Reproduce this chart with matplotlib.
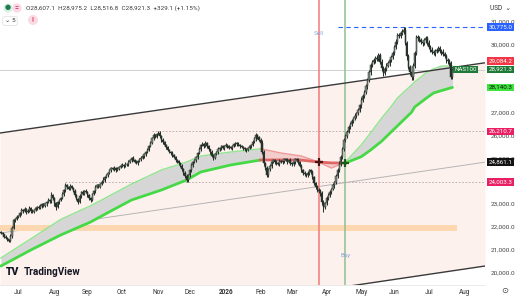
import numpy as np
import pandas as pd
import matplotlib
matplotlib.use("Agg")
import matplotlib.pyplot as plt
import matplotlib.transforms as mtrans

plt.rcParams['font.family'] = ['Roboto', 'DejaVu Sans']

#-----------------------------------------------------------------------------------------
# data (daily bars, NAS100)

start_day = "2025-06-16"
first_open = 21800

closes = [
    21754, 21690, 21600, 21535, 21480, 21400, 21620, 21980, 22325, 22380, 22456,
    22520, 22610, 22763, 22700, 22810, 22690, 22740, 22850, 22720, 22680, 22763,
    22830, 22900, 22860, 22950, 23010, 22940, 23050, 23114, 23200, 23150, 23421,
    23300, 23050, 22895, 23100, 23220, 23290, 23450, 23620, 23860,
    23780, 23700, 23820, 23728, 23600, 23420, 23250, 23114, 23380, 23553,
    23480, 23600, 23553, 23400, 23300, 23202, 23450, 23600, 23772,
    23850, 23780, 23900, 23991, 24100, 24200, 24298, 24400, 24500, 24605,
    24550, 24620, 24518, 24580, 24640, 24693, 24750, 24700, 24800, 24760, 24868,
    24950, 25044, 24950, 24880, 24825, 24900, 24980, 25044, 25120, 25200, 25307,
    25400, 25550, 25702, 25900, 26053, 25980, 26080, 26140,
    26000, 25850, 25746, 25600, 25520, 25395, 25300, 25250, 25175,
    25100, 24950, 24900, 24825, 24700, 24550, 24386, 24250, 24060,
    24300, 24500, 24737, 24850, 24950, 25088, 25250, 25420, 25614,
    25650, 25580, 25702, 25550, 25420, 25307, 25150, 25044,
    25200, 25300, 25420, 25482, 25550, 25480, 25560, 25614,
    25550, 25500, 25482, 25580, 25640, 25702, 25650, 25600, 25560, 25526,
    25480, 25420, 25395, 25480, 25550, 25614, 25750, 25900, 26053,
    25950, 25850, 25702, 25300, 24825, 24600, 24298,
    24550, 24700, 24868, 24950, 24880, 24825, 24780, 24900, 24868,
    24920, 24990, 24956, 24880, 24950, 24825, 24760, 24880, 24980, 24956,
    24850, 24700, 24518, 24400, 24350, 24298, 24380, 24500, 24430,
    24200, 23950, 23772, 23650, 23600, 23509, 23100, 22895,
    23050, 23300, 23421, 23550, 23700, 23850, 23991, 24250, 24518,
    24800, 25088, 25450, 25833, 26000, 26200, 26404, 26550, 26680, 26798,
    26900, 27000, 27149, 27350, 27588, 27750, 27939, 28200, 28465,
    28800, 29123, 29250, 29342, 29450, 29380, 29561, 29250, 28991, 28772,
    28950, 29100, 29211, 29350, 29474, 29650, 29912, 30150, 30439,
    30400, 30526, 30580, 30658, 30100, 29500, 29035, 28800, 28600,
    29100, 29649, 30351, 30300, 30219, 30150, 30088, 30200, 30307, 30100, 29912,
    29800, 29700, 29649, 29720, 29781, 29850, 29750, 29693,
    29600, 29500, 29342, 29280, 29211, 28607, 28921.3,
]

# wick lengths beyond the body, in tens of points
hi_wick = [
    5, 6, 4, 8, 5, 3, 9, 7, 6, 5, 8, 4, 6, 7, 5, 9, 4, 6, 8, 5, 7, 4, 6, 5,
    8, 6, 5, 7, 4, 6, 9, 5, 12, 6, 5, 8, 7, 4, 6, 9, 5, 7, 6, 4, 8, 5, 6, 7,
    5, 4, 9, 6, 7, 5, 8, 4, 6, 5, 7, 6, 8, 5, 4, 6, 7, 9, 5, 6, 4, 8, 6, 5,
    7, 5, 6, 4, 8, 6, 5, 7, 4, 9, 6, 5, 8, 6, 7, 4, 5, 9, 6, 7, 5, 8, 6, 10,
    7, 8, 6, 5, 9, 7, 6, 8, 5, 4, 7, 6, 5, 8, 6, 4, 7, 5, 6, 8, 5, 7, 9, 6,
    5, 8, 6, 7, 4, 6, 9, 5, 8, 6, 7, 5, 6, 4, 8, 7, 5, 6, 9, 4, 6, 7, 5, 8,
    6, 5, 7, 4, 8, 6, 5, 9, 6, 7, 4, 5, 8, 6, 7, 5, 9, 8, 9, 6, 7, 5, 12, 8,
    6, 9, 5, 7, 8, 6, 4, 7, 5, 8, 6, 9, 5, 6, 7, 4, 8, 6, 5, 7, 6, 9, 5, 8,
    6, 7, 5, 8, 4, 6, 9, 7, 5, 8, 6, 10, 7, 12, 8, 6, 9, 7, 5, 8, 6, 9, 7, 10,
    8, 9, 7, 10, 6, 8, 9, 7, 6, 10, 8, 9, 7, 11, 8, 9, 10, 7, 12, 9, 8, 10, 7, 11,
    9, 8, 12, 10, 7, 9, 8, 11, 9, 10, 8, 12, 9, 10, 8, 11, 12, 15, 9, 10, 8, 12, 9, 11,
    10, 8, 9, 11, 7, 10, 9, 8, 12, 9, 10, 7, 11, 8, 9, 10, 8, 12, 9, 10, 7, 11, 9, 5,
]
lo_wick = [
    6, 5, 7, 4, 8, 4, 6, 9, 5, 7, 4, 6, 8, 5, 7, 4, 9, 6, 5, 8, 6, 7, 4, 5,
    7, 5, 8, 6, 4, 9, 5, 7, 6, 8, 10, 12, 5, 7, 6, 4, 8, 6, 9, 5, 7, 6, 4, 8,
    6, 9, 5, 7, 4, 8, 6, 5, 9, 7, 6, 4, 8, 6, 5, 7, 4, 6, 9, 5, 7, 6, 8, 4,
    6, 7, 5, 8, 4, 6, 9, 5, 7, 6, 4, 8, 5, 7, 6, 9, 4, 6, 5, 8, 7, 5, 6, 4,
    5, 7, 6, 8, 4, 6, 9, 7, 5, 8, 6, 4, 7, 9, 5, 6, 8, 7, 6, 9, 8, 7, 6, 5,
    7, 5, 8, 4, 6, 9, 5, 7, 6, 8, 4, 6, 9, 7, 5, 8, 6, 4, 7, 5, 9, 6, 8, 4,
    5, 7, 6, 9, 4, 8, 6, 5, 7, 6, 9, 5, 8, 4, 6, 7, 5, 6, 9, 8, 7, 10, 9, 12,
    8, 10, 7, 6, 9, 5, 8, 7, 6, 9, 5, 7, 8, 6, 9, 7, 10, 6, 5, 8, 7, 9, 6, 10,
    8, 9, 7, 10, 6, 8, 9, 11, 8, 10, 9, 12, 10, 20, 9, 8, 10, 7, 9, 8, 10, 9, 7, 8,
    9, 7, 10, 8, 9, 7, 8, 10, 9, 8, 11, 9, 7, 10, 8, 9, 7, 11, 8, 10, 9, 8, 12, 9,
    10, 8, 14, 12, 9, 10, 8, 11, 9, 10, 8, 9, 10, 8, 11, 9, 10, 12, 14, 10, 11, 14, 12, 10,
    9, 11, 8, 10, 12, 9, 11, 10, 8, 12, 10, 9, 11, 8, 10, 9, 12, 10, 9, 11, 10, 12, 9, 9,
]

# moving averages sampled at bar indices
ma_idx  = [0, 19, 38, 57, 64, 83, 102, 118, 127, 146, 165, 178, 191, 202, 210, 219,
           229, 235, 242, 248, 252, 261, 263, 271, 275, 280, 287]
ma_fast = [20658, 21500, 22350, 22950, 23202, 23904, 24518, 24868, 25131, 25307, 25450,
           25263, 25131, 24868, 24605, 24868, 25614, 26150, 26798, 27300, 27675, 28246,
           28380, 28816, 28950, 29079, 29084.2]
ma_slow = [20307, 21009, 21667, 22237, 22500, 23202, 23640, 24079, 24430, 24737, 24956,
           24960, 24950, 24868, 24830, 24825, 25100, 25395, 25780, 26184, 26450, 27050,
           27281, 27700, 27895, 28000, 28140.3]
red_from, red_to = 165, 219

# drawings
line_x = [-0.6, 307.7]
upper_y = [26140, 29220]
lower_y = [17160, 20307]
mid_y = [21750, 24861.1]
levels = [30775.0, 26210.7, 24003.3]
level_from = [214, 96, 41]
zone = [21842, 22105]
zone_end = 290
sell_idx, buy_idx = 202, 219
cross_px = [24868, 24825]

# price scale: plain ticks (those fully under a tag are not shown) and coloured tags
price_ticks = [20000, 21000, 22000, 23000, 25000, 26000, 27000, 30000, 31000]
tag_values = [30775.0, 29084.2, 28921.3, 28140.3, 26210.7, 24861.1, 24003.3]
# where the scale shows each tag (TradingView pushes apart tags that collide)
tag_shown_at = [30775.0, 29300.0, 28921.3, 28140.3, 26210.7, 24861.1, 24003.3]
tag_colors = ['#2962ff', '#f23645', '#1f7a38', '#3ee33e', '#e91e63', '#131313', '#e91e63']
tag_text = ['white', 'white', 'white', '#111111', 'white', 'white', 'white']

#-----------------------------------------------------------------------------------------

W, H = 518, 300
n = len(closes)
assert len(hi_wick) == n and len(lo_wick) == n

c = np.array(closes, dtype=float)
o = np.concatenate([[first_open], c[:-1]])
hi = np.maximum(o, c) + np.array(hi_wick) * 10
lo = np.minimum(o, c) - np.array(lo_wick) * 10
idx = np.arange(n)

fig = plt.figure(figsize=(W / 100, H / 100), dpi=100)
fig.patch.set_facecolor('white')
ax = fig.add_axes([0, 15 / H, 485 / W, 285 / H])
x_lo, x_hi = line_x
ax.set_xlim(x_lo, x_hi)
ax.set_ylim(19474, 31974)
ax.axis('off')

# channel
ax.fill_between(line_x, lower_y, upper_y, color='#fdf1ee', zorder=0, lw=0)
ax.plot(line_x, upper_y, color='#3a3a3a', lw=1.0, zorder=4)
ax.plot(line_x, lower_y, color='#3a3a3a', lw=1.0, zorder=4)
ax.plot(line_x, mid_y, color='#b5b5b5', lw=0.7, zorder=1)

# demand zone
ax.fill_between([x_lo, zone_end], zone[0], zone[1], color='#fcd7b0', lw=0, zorder=1)

# level lines
ax.hlines(levels[0], level_from[0], x_hi, color='#2962ff', lw=0.8, ls=(0, (4, 3)), zorder=2)
ax.hlines(levels[1], level_from[1], x_hi, color='#b8a4a8', lw=0.6, ls=(0, (2, 2)), zorder=2)
ax.hlines(levels[2], level_from[2], x_hi, color='#b8a4a8', lw=0.6, ls=(0, (2, 2)), zorder=2)
ax.axhline(closes[-1], color='#c9c9c9', lw=0.6, zorder=1)

# moving averages
mi = np.array(ma_idx)
mf = np.array(ma_fast)
ms = np.array(ma_slow)
g1 = mi <= red_from
rr = (mi >= red_from) & (mi <= red_to)
g2 = mi >= red_to
for m in (g1, g2):
    ax.fill_between(mi[m], ms[m], mf[m], color='#d6d6d6', lw=0, zorder=2)
    ax.plot(mi[m], mf[m], color='#8fe68f', lw=1.0, zorder=3)
    ax.plot(mi[m], ms[m], color='#46d946', lw=2.0, zorder=3, solid_capstyle='round')
ax.fill_between(mi[rr], ms[rr], mf[rr], color='#f3cccc', lw=0, zorder=2)
ax.plot(mi[rr], mf[rr], color='#ee9a9a', lw=1.0, zorder=3)
ax.plot(mi[rr], ms[rr], color='#e06666', lw=2.0, zorder=3)

# signal lines
ax.axvline(sell_idx, color='#f07a7a', lw=1.1, zorder=2)
ax.axvline(buy_idx, color='#8fbf8f', lw=1.1, zorder=2)
ax.text(sell_idx, 30526, 'Sell', color='#8ea3d6', fontsize=4.5, ha='center', va='center', zorder=6)
ax.text(buy_idx, 20789, 'Buy', color='#8ea3d6', fontsize=4.5, ha='center', va='center', zorder=6)

# candles
up = c >= o
body_lo = np.minimum(o, c)
body_h = np.maximum(np.abs(c - o), 25)
ax.vlines(idx, lo, hi, color='#27322b', lw=0.75, zorder=5)
ax.bar(idx[up], body_h[up], bottom=body_lo[up], width=0.8, color='#7f8b82',
       edgecolor='#27322b', lw=0.35, zorder=6)
ax.bar(idx[~up], body_h[~up], bottom=body_lo[~up], width=0.8, color='#27322b',
       edgecolor='#27322b', lw=0.35, zorder=6)

ax.plot(sell_idx, cross_px[0], marker='+', ms=6, mew=1.6, color='#4a1414', zorder=7)
ax.plot(buy_idx, cross_px[1], marker='+', ms=6, mew=1.6, color='#1a5a1a', zorder=7)

# NAS100 tag at the right edge
ax.text(0.96, closes[-1], 'NAS100', transform=mtrans.blended_transform_factory(ax.transAxes, ax.transData),
        fontsize=4.4, color='white', ha='center', va='center', zorder=8,
        bbox=dict(boxstyle='square,pad=0.22', fc='#1f7a38', ec='none'))

# price scale
pax = fig.add_axes([485 / W, 15 / H, 33 / W, 285 / H])
pax.set_xlim(0, 1)
pax.set_ylim(ax.get_ylim())
pax.axis('off')
for v in price_ticks:
    pax.text(0.18, v, f"{v:,.1f}", fontsize=4.6, color='#444444', va='center', zorder=1)
for v, at, fc, tc in zip(tag_values, tag_shown_at, tag_colors, tag_text):
    pax.text(0.1, at, f"{v:,.1f}", fontsize=4.5, color=tc, va='center', zorder=5,
             bbox=dict(boxstyle='square,pad=0.22', fc=fc, ec='none'))
fig.text(490 / W, 1 - 9 / H, 'USD  \u2304', fontsize=4.7, color='#333333', va='center')

# time scale
dates = pd.bdate_range(start_day, periods=int(x_hi) + 2)
months = dates.to_period('M')
tick_pos, tick_lab = [], []
for i in range(1, len(dates)):
    if months[i] != months[i - 1]:
        tick_pos.append(i)
        tick_lab.append(str(dates[i].year) if dates[i].month == 1 else dates[i].strftime('%b'))
tr = mtrans.blended_transform_factory(ax.transData, fig.transFigure)
for p, lab in zip(tick_pos, tick_lab):
    ax.text(p, 7.5 / H, lab, transform=tr, fontsize=4.7, ha='center', va='center',
            color='#333333', fontweight='bold' if lab.isdigit() else 'normal', clip_on=False)
fig.text(505 / W, 1 - 291 / H, '\u2299', fontsize=6, color='#444444', ha='center', va='center')
fig.add_artist(plt.Line2D([0, 485 / W], [15 / H, 15 / H], color='#e6e6e6', lw=0.6))

# header
fig.text(26 / W, 1 - 8 / H, 'O28,607.1  H28,975.2  L28,516.8  C28,921.3  +329.1 (+1.15%)',
         fontsize=4.6, color='#3c3c3c', va='center')
fig.text(8 / W, 1 - 8 / H, '\u25cf', fontsize=5, color='#1e7b4e', ha='center', va='center',
         bbox=dict(boxstyle='circle,pad=0.15', fc='#d7efe3', ec='none'))
fig.text(17 / W, 1 - 8 / H, '=', fontsize=5, color='#d9385f', ha='center', va='center',
         fontweight='bold', bbox=dict(boxstyle='circle,pad=0.1', fc='#fbdbe3', ec='none'))
fig.text(10 / W, 1 - 21 / H, '\u2304 5', fontsize=4.6, color='#333333', ha='center', va='center',
         bbox=dict(boxstyle='round,pad=0.3', fc='white', ec='#dddddd', lw=0.5))
fig.text(33 / W, 1 - 20 / H, '!', fontsize=5, color='#e04060', ha='center', va='center',
         fontweight='bold', bbox=dict(boxstyle='circle,pad=0.15', fc='#fbdbe3', ec='none'))

# logo
fig.text(6 / W, 1 - 272 / H, 'TV', fontsize=7.5, color='#131722', fontweight='black', va='center')
fig.text(24 / W, 1 - 272 / H, 'TradingView', fontsize=7.2, color='#131722', fontweight='bold', va='center')

plt.savefig('out.png', dpi=100, facecolor='white')
